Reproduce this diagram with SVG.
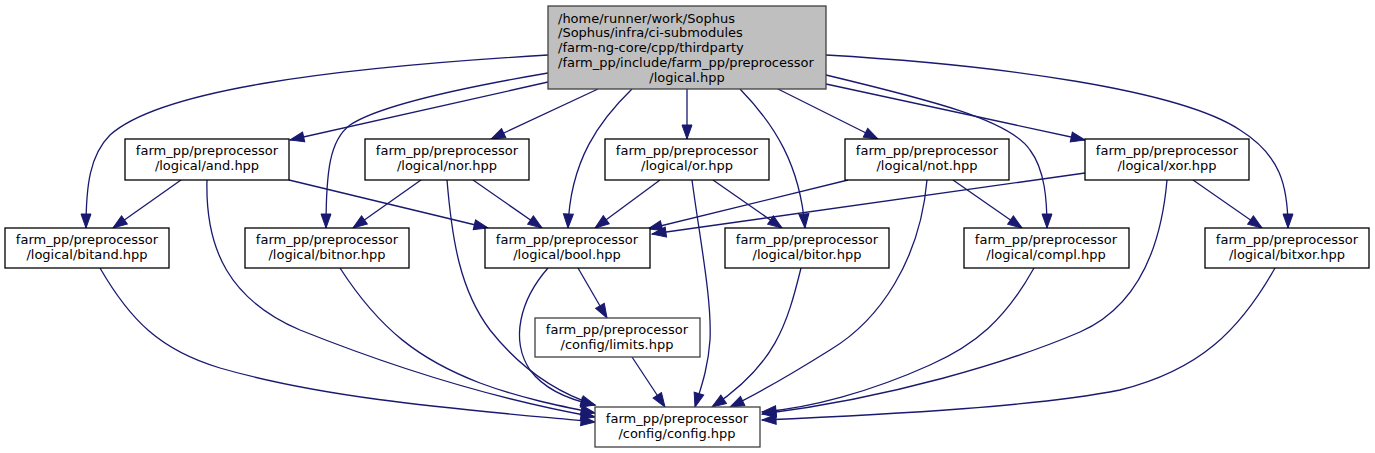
<svg xmlns="http://www.w3.org/2000/svg" width="1375" height="453" viewBox="0 0 1375 453">
<style>
.n rect{fill:#ffffff;stroke:#000000;stroke-width:1.3}
.n.root rect{fill:#bfbfbf;stroke:#404040}
.n.g rect{stroke:#404040}
.n text{font-family:"DejaVu Sans",sans-serif;font-size:13px;fill:#000000;text-anchor:middle}
.n.root text.l{text-anchor:start}
#edges path{fill:none;stroke:#191970;stroke-width:1.3;marker-end:url(#arr)}
</style>
<defs>
<marker id="arr" markerUnits="userSpaceOnUse" markerWidth="15" markerHeight="11" refX="14" refY="5" orient="auto" overflow="visible">
<path d="M0,0 L14,5 L0,10 z" fill="#191970" stroke="#191970" stroke-width="1"/>
</marker>
</defs>
<g id="edges">
<path d="M548,55 C330,68 160,90 110,135 C90,155 86,185 86,228"/>
<path d="M548,82 L290,140"/>
<path d="M548,73 C460,88 380,105 350,125 C330,140 326,170 326,228"/>
<path d="M598,89 L491,139"/>
<path d="M632,89 C600,120 570,160 568,228"/>
<path d="M687,89 L687,139"/>
<path d="M740,89 C775,125 800,165 805,228"/>
<path d="M778,89 L878,139"/>
<path d="M826,75 C930,100 1010,120 1030,150 C1045,170 1047,200 1047,228"/>
<path d="M826,84 L1085,140"/>
<path d="M826,55 C1000,65 1180,90 1240,130 C1280,155 1288,185 1288,228"/>
<path d="M181,180 L113,228"/>
<path d="M289,180 L488,228"/>
<path d="M207,180 C205,250 230,300 300,330 C400,370 500,400 595,417"/>
<path d="M421,180 L353,228"/>
<path d="M473,180 L542,228"/>
<path d="M447,180 C452,240 460,290 490,330 C520,368 555,392 595,405"/>
<path d="M660,180 L595,228"/>
<path d="M713,180 L782,228"/>
<path d="M692,180 C700,240 712,300 710,340 C708,370 700,390 695,407"/>
<path d="M848,180 L648,229"/>
<path d="M927,180 C920,260 880,320 830,350 C790,375 755,395 730,407"/>
<path d="M953,180 L1022,228"/>
<path d="M1085,173 L652,234"/>
<path d="M1167,180 C1160,260 1130,310 1080,332 C1010,362 890,398 762,414"/>
<path d="M1193,180 L1262,228"/>
<path d="M100,268 C130,320 160,350 220,368 C330,400 470,410 595,422"/>
<path d="M340,268 C380,330 420,360 480,383 C520,398 560,406 595,413"/>
<path d="M548,268 C520,300 510,340 530,370 C545,390 570,400 595,405"/>
<path d="M578,268 L607,318"/>
<path d="M801,268 C787,325 775,365 712,407"/>
<path d="M1034,268 C1005,320 975,345 930,365 C870,392 810,408 762,412"/>
<path d="M1275,268 C1240,330 1200,370 1120,390 C1040,406 900,414 762,420"/>
<path d="M632,357 L665,407"/>
</g>
<g id="node-root" class="n root">
<rect x="548" y="6" width="278" height="83"/>
<text class="l" x="558" y="22.7">/home/runner/work/Sophus</text>
<text class="l" x="558" y="37.4">/Sophus/infra/ci-submodules</text>
<text class="l" x="558" y="52.1">/farm-ng-core/cpp/thirdparty</text>
<text class="l" x="558" y="66.8">/farm_pp/include/farm_pp/preprocessor</text>
<text x="687" y="81.5">/logical.hpp</text>
</g>
<g id="node-and" class="n"><rect x="125" y="139" width="164" height="41"/><text x="207" y="155">farm_pp/preprocessor</text><text x="207" y="169.5">/logical/and.hpp</text></g>
<g id="node-nor" class="n"><rect x="365" y="139" width="164" height="41"/><text x="447" y="155">farm_pp/preprocessor</text><text x="447" y="169.5">/logical/nor.hpp</text></g>
<g id="node-or" class="n"><rect x="605" y="139" width="164" height="41"/><text x="687" y="155">farm_pp/preprocessor</text><text x="687" y="169.5">/logical/or.hpp</text></g>
<g id="node-not" class="n"><rect x="845" y="139" width="164" height="41"/><text x="927" y="155">farm_pp/preprocessor</text><text x="927" y="169.5">/logical/not.hpp</text></g>
<g id="node-xor" class="n"><rect x="1085" y="139" width="164" height="41"/><text x="1167" y="155">farm_pp/preprocessor</text><text x="1167" y="169.5">/logical/xor.hpp</text></g>
<g id="node-bitand" class="n"><rect x="5" y="228" width="164" height="40"/><text x="87" y="244">farm_pp/preprocessor</text><text x="87" y="258.5">/logical/bitand.hpp</text></g>
<g id="node-bitnor" class="n"><rect x="245" y="228" width="164" height="40"/><text x="327" y="244">farm_pp/preprocessor</text><text x="327" y="258.5">/logical/bitnor.hpp</text></g>
<g id="node-bool" class="n"><rect x="485" y="228" width="165" height="40"/><text x="567" y="244">farm_pp/preprocessor</text><text x="567" y="258.5">/logical/bool.hpp</text></g>
<g id="node-bitor" class="n"><rect x="725" y="228" width="164" height="40"/><text x="807" y="244">farm_pp/preprocessor</text><text x="807" y="258.5">/logical/bitor.hpp</text></g>
<g id="node-compl" class="n"><rect x="964" y="228" width="165" height="40"/><text x="1046" y="244">farm_pp/preprocessor</text><text x="1046" y="258.5">/logical/compl.hpp</text></g>
<g id="node-bitxor" class="n"><rect x="1205" y="228" width="164" height="40"/><text x="1287" y="244">farm_pp/preprocessor</text><text x="1287" y="258.5">/logical/bitxor.hpp</text></g>
<g id="node-limits" class="n g"><rect x="535" y="318" width="165" height="39"/><text x="617" y="334">farm_pp/preprocessor</text><text x="617" y="348.5">/config/limits.hpp</text></g>
<g id="node-config" class="n g"><rect x="595" y="407" width="165" height="40"/><text x="677" y="423">farm_pp/preprocessor</text><text x="677" y="437.5">/config/config.hpp</text></g>
</svg>
